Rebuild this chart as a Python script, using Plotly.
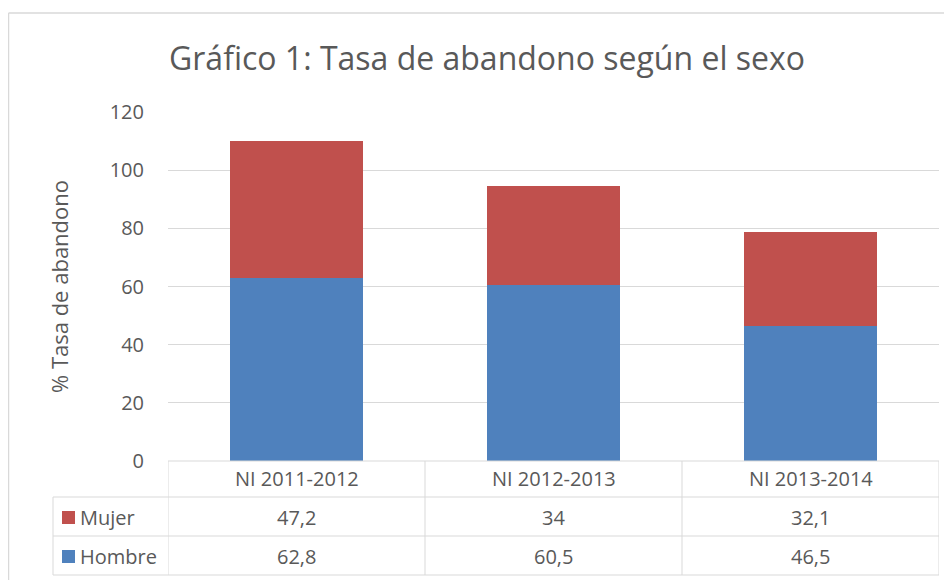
import plotly.graph_objects as go

categories = ["NI 2011-2012", "NI 2012-2013", "NI 2013-2014"]
hombre = [62.8, 60.5, 46.5]
mujer = [47.2, 34.0, 32.1]
series_names = ["Mujer", "Hombre"]
y_ticks = [0, 20, 40, 60, 80, 100, 120]

title_text = "Gráfico 1: Tasa de abandono según el sexo"
y_title = "% Tasa de abandono"

C_MUJER = "#c0504d"
C_HOMBRE = "#4f81bd"
GRID = "#d9d9d9"
TXT = "#595959"
FONT = "Open Sans"

# page body has an 8px margin; work in screen pixels and shift
OFF = 8
W, H = 952 - OFF, 580 - OFF
PL, PR, PT, PB = 168, 939, 112, 461  # plot area in screen pixels
L = PL - OFF
R = W - (PR - OFF)
T = PT - OFF
B = H - (PB - OFF)
PW = PR - PL
PH = PB - PT


def px(xs):
    return (xs - PL) / PW


def py(ys):
    return (PB - ys) / PH


def fmt(v):
    s = f"{v:g}"
    return s.replace(".", ",")


fig = go.Figure()
fig.add_trace(go.Bar(x=categories, y=hombre, name="Hombre", marker=dict(color=C_HOMBRE, line=dict(width=0)), width=0.514))
fig.add_trace(go.Bar(x=categories, y=mujer, name="Mujer", marker=dict(color=C_MUJER, line=dict(width=0)), width=0.514))

shapes = []
line = dict(color=GRID, width=1)
# chart outer frame
shapes.append(dict(type="line", xref="paper", yref="paper", x0=px(8.5), x1=px(960), y0=py(13), y1=py(13), line=dict(color=GRID, width=1.5)))
shapes.append(dict(type="line", xref="paper", yref="paper", x0=px(8.5), x1=px(8.5), y0=py(13), y1=py(590), line=dict(color=GRID, width=1.5)))
# table: header row top (axis line)
shapes.append(dict(type="line", xref="paper", yref="paper", x0=px(168), x1=px(939), y0=py(461), y1=py(461), line=line))
# data row lines
for yy in [497, 536, 575]:
    shapes.append(dict(type="line", xref="paper", yref="paper", x0=px(53), x1=px(939), y0=py(yy), y1=py(yy), line=line))
# vertical lines at category boundaries
for xb in [-0.5, 0.5, 1.5, 2.5]:
    shapes.append(dict(type="line", xref="x", yref="paper", x0=xb, x1=xb, y0=py(461), y1=py(575), line=line))
# left edge for data rows
shapes.append(dict(type="line", xref="paper", yref="paper", x0=px(53), x1=px(53), y0=py(497), y1=py(575), line=line))
# legend keys
row_centers = {"Mujer": 517, "Hombre": 556}
colors = {"Mujer": C_MUJER, "Hombre": C_HOMBRE}
for nm in series_names:
    yc = row_centers[nm]
    shapes.append(dict(type="rect", xref="paper", yref="paper", x0=px(62), x1=px(75), y0=py(yc - 6), y1=py(yc + 7),
                       fillcolor=colors[nm], line=dict(width=0)))

annotations = []
annotations.append(dict(text=title_text, xref="paper", yref="paper", x=px(487), y=py(57), xanchor="center", yanchor="middle",
                        showarrow=False, font=dict(family=FONT, size=32, color=TXT)))
for i, c in enumerate(categories):
    annotations.append(dict(text=c, xref="x", yref="paper", x=i, y=py(479), xanchor="center", yanchor="middle",
                            showarrow=False, font=dict(family=FONT, size=20, color=TXT)))
vals = {"Mujer": mujer, "Hombre": hombre}
for nm in series_names:
    yc = row_centers[nm]
    annotations.append(dict(text=nm, xref="paper", yref="paper", x=px(78), y=py(yc), xanchor="left", yanchor="middle",
                            showarrow=False, font=dict(family=FONT, size=20, color=TXT)))
    for i, v in enumerate(vals[nm]):
        annotations.append(dict(text=fmt(v), xref="x", yref="paper", x=i, y=py(yc), xanchor="center", yanchor="middle",
                                showarrow=False, font=dict(family=FONT, size=20, color=TXT)))

fig.update_layout(
    width=W, height=H,
    margin=dict(l=L, r=R, t=T, b=B, pad=0),
    paper_bgcolor="white", plot_bgcolor="white",
    barmode="stack", showlegend=False,
    shapes=shapes, annotations=annotations,
    font=dict(family=FONT, color=TXT),
    xaxis=dict(range=[-0.5, 2.5], showticklabels=False, showgrid=False, zeroline=False, showline=False, ticks=""),
    yaxis=dict(range=[0, 120], tickvals=y_ticks, gridcolor=GRID, gridwidth=1, zeroline=False, showline=False,
               tickfont=dict(family=FONT, size=20, color=TXT), ticks="", ticklabelstandoff=23,
               title=dict(text=y_title, font=dict(family=FONT, size=22, color=TXT), standoff=34)),
)

fig.write_html("out.html")
